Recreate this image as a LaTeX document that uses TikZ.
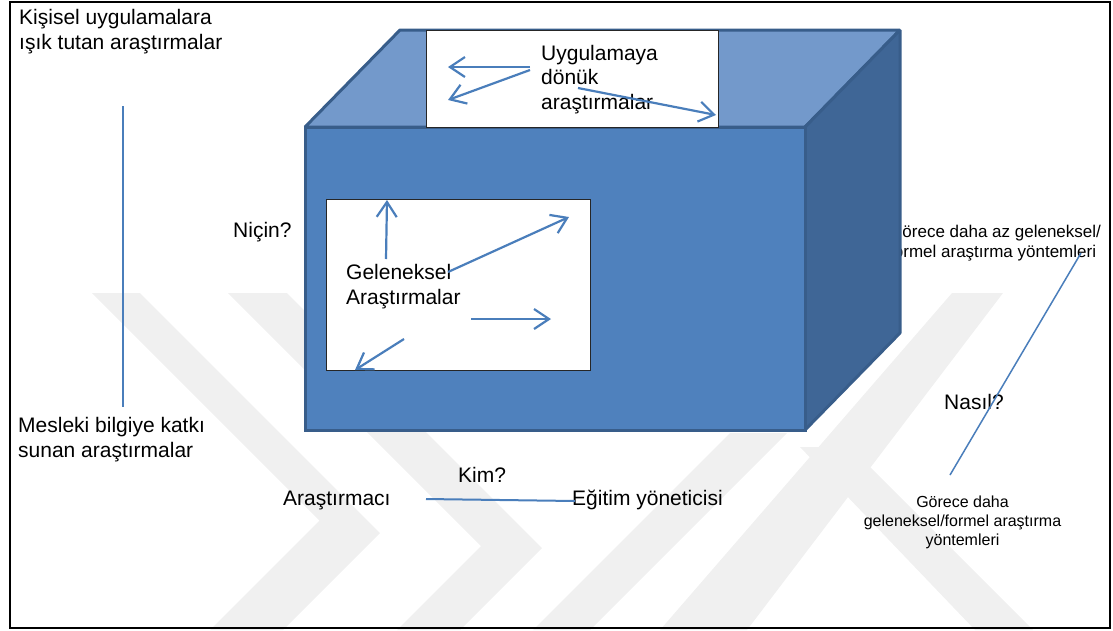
\documentclass[tikz,border=0pt]{standalone}
\usepackage{fontspec}
\setmainfont{Liberation Sans}
\usetikzlibrary{arrows.meta}
\definecolor{frontblue}{HTML}{4F81BD}
\definecolor{topblue}{HTML}{7399CB}
\definecolor{sideblue}{HTML}{3F6696}
\definecolor{edgeblue}{HTML}{385D8A}
\definecolor{linkblue}{HTML}{4A7EBB}
\definecolor{wmgray}{HTML}{F0F0F0}
\begin{document}
\begin{tikzpicture}[x=1pt,y=-1pt,
  lbl/.style={font=\fontsize{21}{24.5}\selectfont, inner sep=0pt, align=left},
  small/.style={font=\fontsize{16}{19}\selectfont, inner sep=0pt},
  face/.style={draw=edgeblue, line width=3pt, line join=bevel},
  arr/.style={draw=linkblue, line width=2.2pt, -{Straight Barb[length=15pt,width=20pt]}},
  thinline/.style={draw=linkblue, line width=1.5pt},
  wbox/.style={draw=black!85, fill=white, line width=1.2pt},
  wmark/.style={fill=wmgray, draw=none}]
\useasboundingbox (0,0) rectangle (1113,630);
% watermark
\fill[wmark] (92,293) -- (140,293) -- (380,533) -- (283,630) -- (210,630) -- (319.5,520.5) -- cycle;
\fill[wmark] (228,293) -- (287,293) -- (542,548) -- (460,630) -- (397,630) -- (481,546) -- cycle;
\fill[wmark] (952,293) -- (1003,293) -- (747,630) -- (660,630) -- cycle;
\fill[wmark] (800,447) -- (850,447) -- (1033,630) -- (975,630) -- cycle;
\fill[wmark] (533,630) -- (590,630) -- (787,433) -- (730,433) -- cycle;
% text behind the cube
\node[small, font=\fontsize{17}{20}\selectfont, anchor=base west, align=left] (azgel) at (889,257) {Görece daha az geleneksel/\\formel araştırma yöntemleri};
% cube
\draw[face, fill=topblue] (305,127) -- (400,30) -- (900,30) -- (805,127) -- cycle;
\draw[face, fill=sideblue] (805,127) -- (900,30) -- (900,333) -- (805,430) -- cycle;
\draw[face, fill=frontblue, line join=miter] (305,127) rectangle (805,430);
% boxes
\node[wbox, minimum width=292pt, minimum height=97pt, anchor=north west, inner sep=0pt] (topbox) at (426,30) {};
\node[wbox, minimum width=264pt, minimum height=171pt, anchor=north west, inner sep=0pt] (genbox) at (326,199) {};
\node[lbl, anchor=base west] (uyg) at (541,109) {Uygulamaya\\dönük\\araştırmalar};
\node[lbl, anchor=base west] (gel) at (346,304) {Geleneksel\\Araştırmalar};
% arrows in the top box
\coordinate (u0) at (530,67);
\coordinate (u1) at (448,67);
\coordinate (u2) at (530,70);
\coordinate (u3) at (448,100);
\coordinate (u4) at (578,88);
\coordinate (u5) at (716,115);
\draw[arr] (u0) -- (u1);
\draw[arr] (u2) -- (u3);
\draw[arr] (u4) -- (u5);
% arrows in the lower box
\coordinate (g0) at (386,259);
\coordinate (g1) at (387,200);
\coordinate (g2) at (448,272);
\coordinate (g3) at (569,217);
\coordinate (g4) at (471,319);
\coordinate (g5) at (551,319);
\coordinate (g6) at (404,339);
\coordinate (g7) at (355,370);
\draw[arr] (g0) -- (g1);
\draw[arr] (g2) -- (g3);
\draw[arr] (g4) -- (g5);
\draw[arr] (g6) -- (g7);
% labels
\node[lbl, anchor=base west] (kis) at (19,49) {Kişisel uygulamalara\\ışık tutan araştırmalar};
\node[lbl, anchor=base west] (mes) at (18,457) {Mesleki bilgiye katkı\\sunan araştırmalar};
\node[lbl, anchor=base west] (nicin) at (233,237) {Niçin?};
\node[lbl, anchor=base west] (kim) at (458,482) {Kim?};
\node[lbl, anchor=base west] (arc) at (283,505) {Araştırmacı};
\node[lbl, anchor=base west] (egy) at (572,505) {Eğitim yöneticisi};
\node[lbl, anchor=base west] (nasil) at (944,409) {Nasıl?};
\node[small, anchor=base, align=center] (gorgel) at (962.5,545) {Görece daha\\geleneksel/formel araştırma\\yöntemleri};
% connectors
\coordinate (v1) at (123,106);
\coordinate (v2) at (123,407);
\draw[thinline] (v1) -- (v2);
\coordinate (k1) at (426,499);
\coordinate (k2) at (575,501);
\draw[thinline, line width=2pt] (k1) -- (k2);
\coordinate (n1) at (1081,253);
\coordinate (n2) at (950,475);
\draw[thinline] (n1) -- (n2);
% frame
\draw[line width=2.5pt] (10,2) rectangle (1110,628);
\end{tikzpicture}
\end{document}
